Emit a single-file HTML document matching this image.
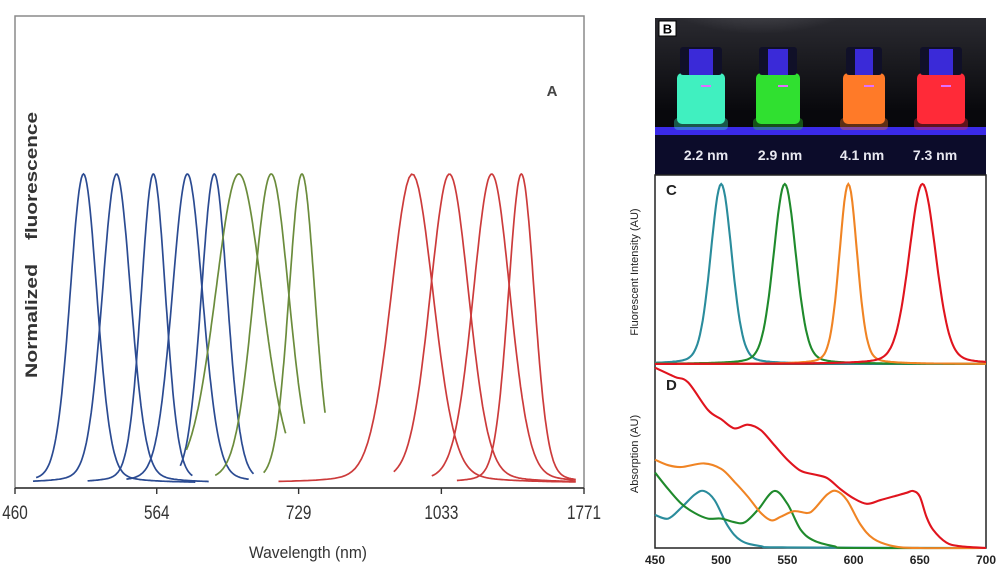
<!DOCTYPE html>
<html><head><meta charset="utf-8"><style>
html,body{margin:0;padding:0;background:#fff;}
svg{display:block;font-family:"Liberation Sans",sans-serif;}
</style></head><body>
<svg id="fig" width="1000" height="567" viewBox="0 0 1000 567" xmlns="http://www.w3.org/2000/svg">
<defs>
<linearGradient id="bgB" x1="0" y1="0" x2="0" y2="1">
<stop offset="0" stop-color="#2a2a30"/><stop offset="0.6" stop-color="#08080c"/><stop offset="1" stop-color="#050508"/></linearGradient>
<radialGradient id="glow" cx="0.5" cy="0" r="0.6"><stop offset="0" stop-color="#9a9aa0"/><stop offset="1" stop-color="#9a9aa0" stop-opacity="0"/></radialGradient>
<clipPath id="clipB"><rect x="655" y="18" width="331" height="157"/></clipPath>
</defs>
<g id="panelA">
<rect x="15" y="16" width="569" height="472" fill="#fff" stroke="#8a8a8a" stroke-width="1.5"/>
<line x1="15" y1="488" x2="584" y2="488" stroke="#333" stroke-width="1.6"/>
<g id="ticksA"></g>
<g id="curvesA"></g>
<text x="552" y="96" font-size="15" font-weight="bold" fill="#444" text-anchor="middle">A</text>
<text transform="translate(37,321) rotate(-90)" font-size="17" font-weight="bold" fill="#333" text-anchor="middle" textLength="114" lengthAdjust="spacingAndGlyphs">Normalized</text>
<text transform="translate(37,176) rotate(-90)" font-size="17" font-weight="bold" fill="#333" text-anchor="middle" textLength="128" lengthAdjust="spacingAndGlyphs">fluorescence</text>
<text x="308" y="558" font-size="17" fill="#333" text-anchor="middle" textLength="118" lengthAdjust="spacingAndGlyphs">Wavelength (nm)</text>
</g>
<g id="panelB">
<g clip-path="url(#clipB)">
<rect x="655" y="18" width="331" height="157" fill="url(#bgB)"/>
<ellipse cx="760" cy="22" rx="110" ry="60" fill="url(#glow)" opacity="0.7"/>
<rect x="655" y="127" width="331" height="8" fill="#3a2ae8"/>
<rect x="655" y="135" width="331" height="40" fill="#0c0c2a"/>
<g id="vials"></g>
</g>
<rect x="659" y="21" width="17" height="15" fill="#fff" stroke="#000" stroke-width="1"/>
<text x="667.5" y="33.5" font-size="13" font-weight="bold" fill="#000" text-anchor="middle">B</text>
</g>
<g id="panelCD">
<rect x="655" y="175" width="331" height="373" fill="#fff" stroke="#222" stroke-width="1.5"/>
<line x1="655" y1="364" x2="986" y2="364" stroke="#222" stroke-width="1.8"/>
<g id="curvesC"></g>
<g id="curvesD"></g>
<g id="ticksD"></g>
<text x="666" y="195" font-size="15" font-weight="bold" fill="#222">C</text>
<text x="666" y="390" font-size="15" font-weight="bold" fill="#222">D</text>
<text transform="translate(638,272) rotate(-90)" font-size="11" fill="#222" text-anchor="middle">Fluorescent Intensity (AU)</text>
<text transform="translate(638,454) rotate(-90)" font-size="11" fill="#222" text-anchor="middle">Absorption (AU)</text>
</g>
</svg>
<script>
// ---- Panel A data ----
const tickLabelsA = [460, 564, 729, 1033, 1771];
const peaksA = [505, 530, 561, 593, 621, 649, 690, 734, 952, 1058, 1211, 1348];
const fwhmA = [905, 960, 820, 1020, 875, 1580, 1190, 875, 1415, 1300, 1245, 875]; // cm^-1
const startA = [473, 471, 508, 538, 586, 592, 622, 680, 700, 907, 1005, 1082];
const endA = [601, 615, 598, 661, 667, 710, 738, 771, 1700, 1700, 1700, 1700];
const groupA = ['blue','blue','blue','blue','blue','green','green','green','red','red','red','red'];
// ---- Panel C data ----
const peaksC = [500, 548, 596, 652];
const fwhmC = [19, 20, 16, 24];
const seriesNames = ['2.2 nm', '2.9 nm', '4.1 nm', '7.3 nm'];
// ---- Panel D data ----
const redWl = [450,465,475,490,500,510,520,530,540,550,560,570,580,590,600,610,620,630,640,645,650,655,660,670,680,700];
const redAbs = [0.98,0.93,0.90,0.75,0.70,0.65,0.67,0.64,0.56,0.48,0.42,0.40,0.38,0.32,0.27,0.24,0.26,0.28,0.30,0.31,0.28,0.17,0.10,0.03,0.01,0];
const orangeWl = [450,460,470,487,500,510,520,530,538,545,555,565,570,580,587,595,605,615,630,650,700];
const orangeAbs = [0.48,0.45,0.44,0.46,0.43,0.36,0.28,0.19,0.15,0.17,0.20,0.19,0.21,0.29,0.31,0.26,0.13,0.05,0.01,0,0];
const greenWl = [450,460,470,480,490,500,510,518,528,540,550,560,570,585,600,700];
const greenAbs = [0.41,0.32,0.24,0.19,0.16,0.16,0.14,0.14,0.21,0.31,0.24,0.10,0.04,0.01,0,0];
const tealWl = [450,460,470,480,487,495,505,515,530,550,700];
const tealAbs = [0.18,0.16,0.22,0.29,0.31,0.26,0.12,0.04,0.01,0.003,0];
const tickLabelsD = [450, 500, 550, 600, 650, 700];

const NS = 'http://www.w3.org/2000/svg';
function mk(tag, attrs, parent){const e=document.createElementNS(NS,tag);for(const k in attrs)e.setAttribute(k,attrs[k]);parent.appendChild(e);return e;}

const invMin = 1/460, invMax = 1/1771;
function xA(nm){return 15 + (invMin - 1/nm)/(invMin - invMax)*569;}
function yA(v){return 483 - v*309;}
const colA = {blue:'#2b4b92', green:'#6b8c3c', red:'#cc3b3b'};

const tA = document.getElementById('ticksA');
tickLabelsA.forEach(function(t){
  const x = xA(t);
  const tk = mk('line',{x1:x,y1:488,x2:x,y2:494,stroke:'#333','stroke-width':1.4},tA);
  
  
  const s = String(t);
  const lb = mk('text',{x:x,y:519,'font-size':19,fill:'#333','text-anchor':'middle',textLength:s.length*8.5,lengthAdjust:'spacingAndGlyphs'},tA);
  lb.textContent = s;
  
  
});

const cA = document.getElementById('curvesA');
peaksA.forEach(function(p,i){
  const e0 = 1e7/p, w = fwhmA[i];
  let d = '';
  const n = 160;
  for(let j=0;j<=n;j++){
    const nm = startA[i] + (endA[i]-startA[i])*j/n;
    const de = 1e7/nm - e0;
    const v = 0.85*Math.exp(-4*Math.LN2*de*de/(w*w)) + 0.15/(1+4*de*de/(w*w));
    d += (j?'L':'M') + xA(nm).toFixed(1) + ',' + yA(v).toFixed(1);
  }
  const path = mk('path',{d:d,fill:'none',stroke:colA[groupA[i]],'stroke-width':1.7},cA);
  
  
});

function xD(nm){return 655 + (nm-450)/250*331;}
function yC(v){return 364 - v*180;}
function yD(v){return 548 - v*184;}
const colC = ['#2a8c9c','#1f8a2c','#f08424','#e0141e'];

const cC = document.getElementById('curvesC');
peaksC.forEach(function(p,i){
  const w = fwhmC[i];
  let d='';
  for(let nm=450;nm<=700;nm+=1){
    const dd = nm-p;
    const v = 0.8*Math.exp(-4*Math.LN2*dd*dd/(w*w)) + 0.2/(1+4*dd*dd/(w*w));
    d += (nm===450?'M':'L') + xD(nm).toFixed(1) + ',' + yC(v).toFixed(1);
  }
  const path = mk('path',{d:d,fill:'none',stroke:colC[i],'stroke-width':2.1},cC);
  
  
});

const cD = document.getElementById('curvesD');
function smoothPath(xs, ys){
  const pts = xs.map(function(x,i){return [xD(x), yD(ys[i])];});
  let d = 'M'+pts[0][0].toFixed(1)+','+pts[0][1].toFixed(1);
  for(let i=0;i<pts.length-1;i++){
    const p0=pts[Math.max(0,i-1)],p1=pts[i],p2=pts[i+1],p3=pts[Math.min(pts.length-1,i+2)];
    const c1=[p1[0]+(p2[0]-p0[0])/6,p1[1]+(p2[1]-p0[1])/6];
    const c2=[p2[0]-(p3[0]-p1[0])/6,p2[1]-(p3[1]-p1[1])/6];
    d+='C'+c1[0].toFixed(1)+','+c1[1].toFixed(1)+' '+c2[0].toFixed(1)+','+c2[1].toFixed(1)+' '+p2[0].toFixed(1)+','+p2[1].toFixed(1);
  }
  return d;
}
const absSeries = [[tealWl,tealAbs,colC[0],'teal'],[greenWl,greenAbs,colC[1],'green'],[orangeWl,orangeAbs,colC[2],'orange'],[redWl,redAbs,colC[3],'red']];
absSeries.forEach(function(s){
  const path = mk('path',{d:smoothPath(s[0],s[1]),fill:'none',stroke:s[2],'stroke-width':2.1},cD);
  
  
});

const tD = document.getElementById('ticksD');
tickLabelsD.forEach(function(t){
  const lb = mk('text',{x:xD(t),y:564,'font-size':12,'font-weight':'bold',fill:'#222','text-anchor':'middle'},tD);
  lb.textContent = String(t);
  
  
});

const vials = document.getElementById('vials');
const vialX = [677, 756, 843, 917];
const vialW = [48, 44, 42, 48];
const vialCol = ['#40f0c0','#30e030','#ff7a28','#ff2a38'];
const labelX = [706, 780, 862, 935];
vialX.forEach(function(x,i){
  const g = mk('g',{},vials);
  
  
  mk('rect',{x:x-3,y:118,width:vialW[i]+6,height:12,fill:vialCol[i],opacity:0.35,rx:4},g);
  mk('rect',{x:x,y:73,width:vialW[i],height:51,rx:5,fill:vialCol[i]},g);
  mk('rect',{x:x+3,y:47,width:vialW[i]-6,height:28,rx:3,fill:'#101028'},g);
  mk('rect',{x:x+12,y:49,width:vialW[i]-24,height:26,fill:'#3a2ad8'},g);
  mk('rect',{x:x+vialW[i]/2,y:85,width:10,height:2,fill:'#e070ff'},g);
  const t = mk('text',{x:labelX[i],y:160,'font-size':14,'font-weight':'bold',fill:'#e8e8f0','text-anchor':'middle'},vials);
  t.textContent = seriesNames[i];
  
  
});
</script>
</body></html>
